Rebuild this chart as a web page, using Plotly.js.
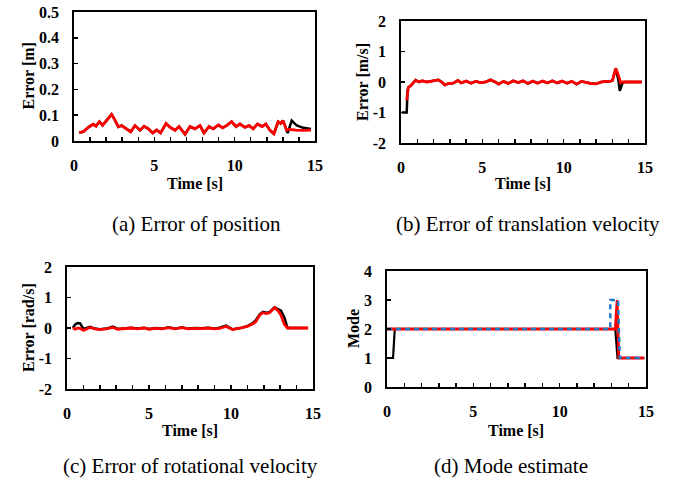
<!DOCTYPE html>
<html>
<head>
<meta charset="utf-8">
<script src="https://cdn.plot.ly/plotly-3.0.1.min.js"></script>
<style>
html,body{margin:0;padding:0;background:#fff;}
#chart{width:681px;height:484px;}
</style>
</head>
<body>
<div id="chart"></div>
<script>
// ---------- Data ----------
// (a) Error of position [m]
const aT = [0.33,0.58,0.89,1.2,1.37,1.58,1.78,2.03,2.34,2.55,2.76,2.96,3.28,3.53,3.8,4.11,4.36,4.63,4.9,5.14,5.39,5.73,5.98,6.29,6.54,6.91,7.22,7.53,7.84,8.09,8.4,8.67,8.98,9.25,9.5,9.81,10.08,10.33,10.64,10.9,11.15,11.42,11.71,11.94,12.19,12.44,12.71,12.87,13.01,13.23];
const aCommon = [0.032,0.036,0.053,0.065,0.058,0.075,0.061,0.079,0.103,0.081,0.055,0.06,0.045,0.036,0.06,0.042,0.057,0.047,0.031,0.043,0.031,0.068,0.053,0.042,0.056,0.026,0.056,0.047,0.06,0.031,0.056,0.047,0.062,0.051,0.06,0.075,0.056,0.066,0.053,0.06,0.047,0.066,0.056,0.066,0.042,0.028,0.075,0.068,0.079,0.042];
const aRedTailT = [13.44,13.8,14.3,14.75];
const aRedTail = [0.045,0.042,0.041,0.042];
const aBlackTailT = [13.3,13.55,13.86,14.27,14.75];
const aBlackTail = [0.031,0.079,0.06,0.051,0.047];

// (b) Error of translation velocity [m/s]
const bT = [0.45,0.6,0.9,1.1,1.3,1.6,1.9,2.1,2.3,2.5,2.7,2.9,3.2,3.5,3.7,4.0,4.3,4.6,4.9,5.2,5.5,5.8,6.0,6.3,6.6,6.9,7.2,7.5,7.8,8.1,8.4,8.7,9.0,9.3,9.6,9.9,10.2,10.5,10.8,11.1,11.4,11.7,12.0,12.3,12.6,12.8,13.0];
const bCommon = [-0.18,-0.12,0.06,0.0,0.04,0.0,0.03,0.06,0.07,0.0,-0.1,-0.05,-0.04,0.05,-0.03,0.03,-0.04,0.02,-0.02,0.0,0.07,0.0,-0.07,0.02,-0.05,0.04,-0.02,0.04,-0.05,0.03,-0.04,0.03,-0.03,0.04,-0.03,0.03,-0.04,0.02,-0.07,0.02,-0.02,-0.05,-0.06,0.0,0.02,0.01,0.05];
const bRedHeadT = [0.35];
const bRedHead = [-0.6];
const bBlackHeadT = [0.05,0.35,0.4];
const bBlackHead = [-1,-1,-0.3];
const bRedTailT = [13.2,13.35,13.5,13.65,14.8];
const bRedTail = [0.45,0.25,-0.02,0.0,0.0];
const bBlackTailT = [13.2,13.35,13.45,13.6,13.75,14.8];
const bBlackTail = [0.43,0.1,-0.29,-0.05,0.0,0.0];

// (c) Error of rotational velocity [rad/s]
const cT = [0.36,0.5,0.65,0.8,1.0,1.2,1.4,1.7,2.0,2.4,2.8,3.1,3.5,3.9,4.3,4.7,5.0,5.4,5.8,6.2,6.6,7.0,7.4,7.8,8.2,8.6,9.0,9.3,9.7,10.1,10.6,11.0,11.3,11.5,11.75,11.95,12.15,12.35,12.65,12.85,13.05,13.25,13.45,14.7];
const cBlack = [0,0.12,0.16,0.15,-0.03,0.0,0.04,-0.02,-0.04,-0.02,0.05,-0.03,0.0,0.01,-0.02,0.01,-0.03,0.0,-0.02,0.02,-0.02,0.02,-0.02,0.0,-0.01,0.01,-0.02,0.01,0.08,-0.04,0.0,0.06,0.15,0.25,0.45,0.53,0.5,0.52,0.68,0.62,0.57,0.35,0.0,0.0];
const cRed = [0,-0.04,0.0,-0.02,-0.08,-0.03,0.02,-0.03,-0.05,-0.03,0.02,-0.04,-0.02,0.0,-0.03,0.0,-0.04,-0.01,-0.03,0.01,-0.03,0.01,-0.03,-0.01,-0.02,0.0,-0.03,-0.01,0.05,-0.05,0.0,0.05,0.13,0.2,0.42,0.5,0.47,0.5,0.67,0.58,0.42,0.12,0.0,0.0];

// (d) Mode estimate
const dBlackT = [0,0.35,0.45,13.22,13.35,14.9];
const dBlack = [1,1,2,2,1,1];
const dRedT = [0,13.22,13.33,13.42,14.9];
const dRed = [2,2,3,1,1];
const dBlueT = [0,12.93,12.93,13.38,13.48,14.9];
const dBlue = [2,2,3,3,1,1];

// Tick labels
const xTicks = [0,5,10,15];
const aYTicks = [0,0.1,0.2,0.3,0.4,0.5];
const aYText = ['0','0.1','0.2','0.3','0.4','0.5'];
const bcYTicks = [-2,-1,0,1,2];
const bcYText = ['-2','-1','0','1','2'];
const dYTicks = [0,1,2,3,4];
const dYText = ['0','1','2','3','4'];

// ---------- Traces ----------
const RED = '#ff0000', BLACK = '#000000', BLUE = '#1f78c8';
function ln(x, y, color, width, xa, ya, dash) {
  return {x, y, type:'scatter', mode:'lines', xaxis:xa, yaxis:ya,
    line:{color, width, dash: dash || 'solid'}, hoverinfo:'skip', showlegend:false};
}
const traces = [
  ln(aT.concat(aBlackTailT), aCommon.concat(aBlackTail), BLACK, 2.5, 'x', 'y'),
  ln(aT.concat(aRedTailT), aCommon.concat(aRedTail), RED, 2.8, 'x', 'y'),
  ln(bBlackHeadT.concat(bT, bBlackTailT), bBlackHead.concat(bCommon, bBlackTail), BLACK, 2.5, 'x2', 'y2'),
  ln(bRedHeadT.concat(bT, bRedTailT), bRedHead.concat(bCommon, bRedTail), RED, 2.8, 'x2', 'y2'),
  ln(cT, cBlack, BLACK, 2.5, 'x3', 'y3'),
  ln(cT, cRed, RED, 2.8, 'x3', 'y3'),
  ln(dBlackT, dBlack, BLACK, 2.2, 'x4', 'y4'),
  ln(dRedT, dRed, RED, 2.8, 'x4', 'y4'),
  ln(dBlueT, dBlue, BLUE, 2.5, 'x4', 'y4', '5px,4px')
];

// ---------- Layout ----------
const W = 681, H = 484;
const tickFont = {family:'Liberation Serif, Times New Roman, serif', size:16, weight:'bold', color:'#000'};
function dx(l, r) { return [l / W, r / W]; }
function dy(t, b) { return [1 - b / H, 1 - t / H]; }
function xax(domain, anchor) {
  return {domain, anchor, range:[0,15], tickvals:xTicks, ticktext:xTicks.map(String),
    ticks:'inside', ticklen:4, tickwidth:1.5, tickcolor:'#000',
    minor:{tick0:0, dtick:1, ticks:'inside', ticklen:4, tickwidth:1.5, tickcolor:'#000', showgrid:false},
    showline:true, linecolor:'#000', linewidth:1.8, mirror:true,
    showgrid:false, zeroline:false, tickfont:tickFont, ticklabelstandoff:9, fixedrange:true};
}
function yax(domain, anchor, range, vals, text) {
  return {domain, anchor, range, tickvals:vals, ticktext:text,
    ticks:'inside', ticklen:4, tickwidth:1.5, tickcolor:'#000',
    showline:true, linecolor:'#000', linewidth:1.8, mirror:true,
    showgrid:false, zeroline:false, tickfont:tickFont, ticklabelstandoff:10, fixedrange:true};
}
const titleFont = {family:'Liberation Serif, Times New Roman, serif', size:16, weight:'bold', color:'#000'};
const capFont = {family:'Liberation Serif, Times New Roman, serif', size:21, color:'#000'};
function ann(text, x, y, font, angle) {
  return {text, x: x / W, y: 1 - y / H, xref:'paper', yref:'paper', showarrow:false,
    xanchor:'center', yanchor:'middle', font, textangle: angle || 0};
}
const layout = {
  width:W, height:H, margin:{l:0,r:0,t:0,b:0}, paper_bgcolor:'#fff', plot_bgcolor:'#fff',
  showlegend:false,
  xaxis: xax(dx(74,315), 'y'),
  yaxis: yax(dy(12,141), 'x', [0,0.5], aYTicks, aYText),
  xaxis2: xax(dx(401,645), 'y2'),
  yaxis2: yax(dy(21,143), 'x2', [-2,2], bcYTicks, bcYText),
  xaxis3: xax(dx(67,313), 'y3'),
  yaxis3: yax(dy(267,389), 'x3', [-2,2], bcYTicks, bcYText),
  xaxis4: xax(dx(387,646), 'y4'),
  yaxis4: yax(dy(271,387), 'x4', [0,4], dYTicks, dYText),
  annotations: [
    ann('Time [s]', 194.5, 183, titleFont),
    ann('Time [s]', 523, 183, titleFont),
    ann('Time [s]', 190, 430, titleFont),
    ann('Time [s]', 516, 430, titleFont),
    ann('Error [m]', 28, 76.5, titleFont, -90),
    ann('Error [m/s]', 362, 82, titleFont, -90),
    ann('Error [rad/s]', 28, 328, titleFont, -90),
    ann('Mode', 353, 329, titleFont, -90),
    ann('(a) Error of position', 196.5, 224, capFont),
    ann('(b) Error of translation velocity', 528, 224, capFont),
    ann('(c) Error of rotational velocity', 190, 466, capFont),
    ann('(d) Mode estimate', 511, 466, capFont)
  ]
};
Plotly.newPlot('chart', traces, layout, {staticPlot:true, displayModeBar:false});
</script>
</body>
</html>
